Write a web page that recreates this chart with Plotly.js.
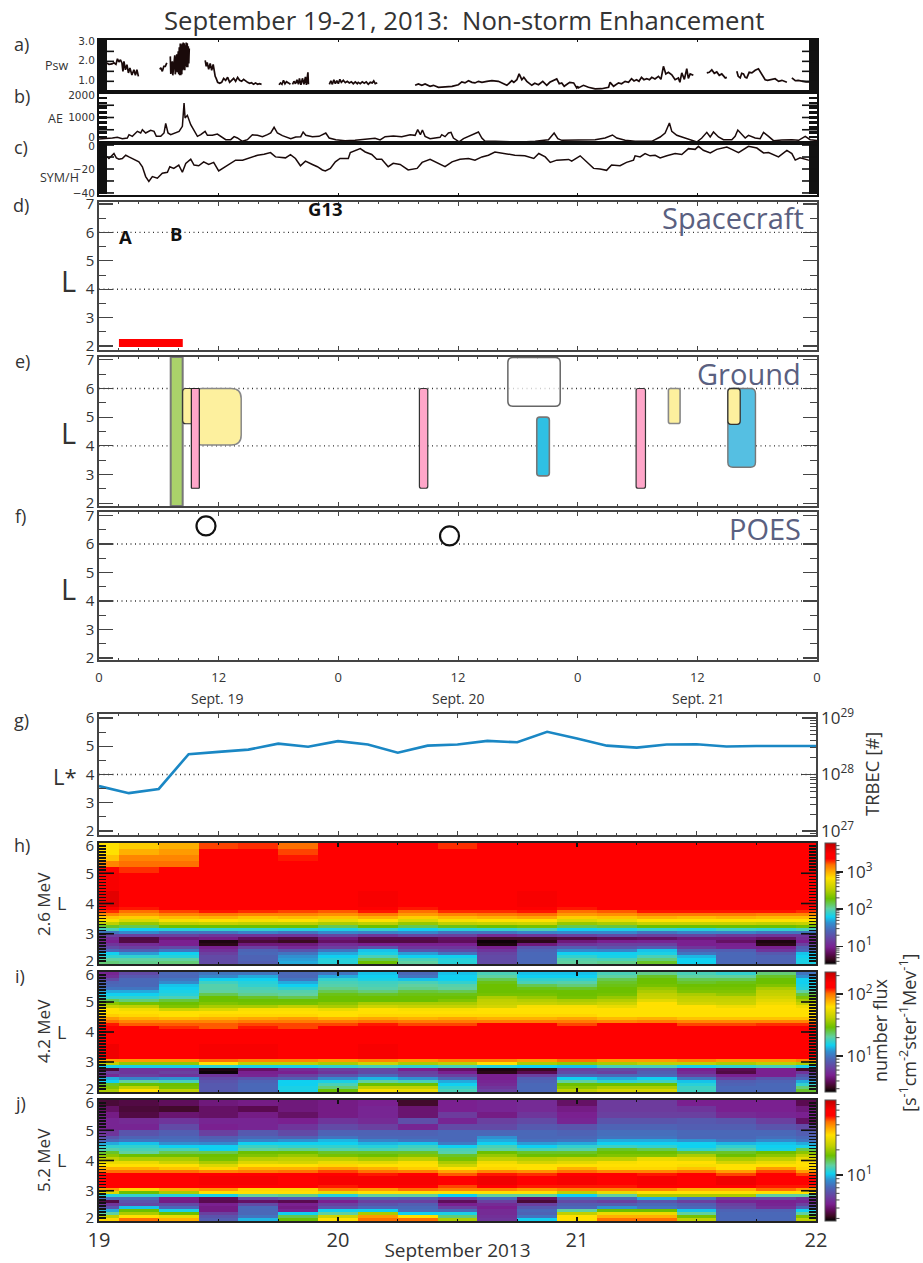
<!DOCTYPE html>
<html><head><meta charset="utf-8">
<script src="https://cdn.plot.ly/plotly-3.0.1.min.js"></script>
<style>html,body{margin:0;padding:0;background:#fff}</style></head>
<body><div id="chart" style="width:923px;height:1263px"></div>
<script>
// ---------- values ----------
const pswHours=[0.8,1.0,1.3,1.5,1.7,1.85,2.0,2.15,2.3,2.4,2.5,2.65,2.8,2.95,3.1,3.3,3.5,3.65,3.8,3.95,null,
6.1,6.2,6.35,6.5,6.65,6.8,null,7.15,7.2,7.35,7.4,7.6,7.65,7.8,7.85,7.95,8.0,8.05,8.1,8.15,8.2,8.25,8.3,8.35,8.4,8.45,8.5,8.55,8.6,8.65,8.7,8.75,8.8,8.85,8.9,8.95,9.0,9.05,null,
10.65,10.75,10.85,11.0,11.15,11.3,11.45,11.55,11.65,11.75,11.9,12.1,12.3,12.5,12.7,12.9,13.1,13.3,13.5,13.7,13.9,14.1,14.3,14.5,14.7,14.9,15.1,15.3,15.5,15.7,15.9,16.1,16.3,null,
18.05,18.2,18.35,18.5,18.65,18.8,19.0,19.2,null,19.4,19.55,19.7,19.85,20.0,20.1,20.25,20.4,20.55,20.7,20.8,20.95,21.0,null,
23.1,23.25,23.4,23.55,23.7,23.85,24.0,24.15,24.3,24.5,24.7,24.9,25.1,25.3,25.5,25.7,25.9,26.0,26.2,26.4,26.6,26.8,27.0,27.2,27.4,27.55,27.7,27.9,null,
31.7,32.03,32.37,32.7,33.2,33.54,34.04,34.7,35.4,36.04,36.38,36.7,37.05,37.4,37.7,38.05,38.4,38.9,39.4,40.05,40.5,40.9,41.4,41.6,41.9,42.13,42.4,42.6,42.9,43.4,43.7,44.07,44.5,44.9,45.2,45.6,45.9,46.15,46.4,46.65,46.9,47.2,47.6,47.9,48.0,48.07,48.58,49.08,49.75,50.4,51.1,51.25,51.6,52.1,52.4,52.76,53.1,53.4,53.65,53.9,54.15,54.4,54.65,54.93,55.2,55.43,55.75,56.1,56.35,56.6,56.84,57.1,57.44,57.77,58.1,58.25,58.44,58.7,58.94,59.1,59.28,59.6,null,
60.95,61.2,61.45,61.7,61.95,62.2,62.45,62.8,62.96,null,63.96,64.1,64.3,64.45,64.63,64.8,64.96,65.2,65.47,65.8,66.13,66.47,66.8,67.05,67.3,67.8,68.15,68.48,68.98,null,69.48,69.82,70.1,70.48,70.9,71.32,71.8];
const pswValues=[1.92,1.85,1.87,1.93,1.85,2.13,1.97,2.08,1.92,1.5,2.0,1.58,1.83,1.42,1.67,1.32,1.58,1.3,1.58,1.25,null,
1.6,1.68,1.5,1.75,1.75,1.92,null,2.25,1.37,2.0,1.3,2.3,1.35,2.35,1.45,2.5,1.35,2.7,1.3,2.9,1.3,2.85,1.35,2.9,1.55,2.95,1.6,2.9,1.55,2.8,1.75,2.95,1.7,2.9,1.7,2.75,1.9,2.65,null,
2.05,1.75,1.95,1.6,1.9,1.55,1.85,1.45,1.25,1.15,0.95,0.9,0.95,1.15,1.05,1.2,0.95,1.05,1.15,1.0,1.2,1.05,1.0,1.1,1.0,0.95,0.9,0.93,0.85,0.92,0.85,0.88,0.85,null,
0.83,0.92,0.85,1.05,0.88,0.98,0.92,0.85,null,0.85,1.0,0.88,1.08,0.85,1.15,0.82,1.15,0.85,1.22,0.82,1.45,0.85,null,
0.85,1.03,0.85,1.08,0.88,1.03,0.88,1.1,0.95,1.05,0.93,1.0,0.92,0.98,0.88,0.97,0.88,0.95,0.88,0.97,0.9,0.97,0.85,0.95,0.92,1.02,0.88,0.93,null,
0.8,0.87,0.8,0.87,0.75,0.8,0.7,0.72,0.75,0.83,0.97,0.92,1.03,0.95,0.92,1.0,0.95,1.0,1.03,1.0,0.9,0.8,1.03,0.95,1.08,1.37,1.08,1.2,1.0,0.8,0.9,0.83,1.0,0.8,0.95,1.05,1.12,0.88,0.92,0.75,0.83,0.95,0.92,0.67,0.75,0.67,0.8,0.7,0.62,0.63,0.7,0.95,0.75,0.92,0.88,1.0,0.95,1.13,1.02,1.08,1.0,1.2,1.08,1.13,1.08,1.2,1.12,1.25,1.1,1.75,1.37,1.45,1.33,1.08,1.17,0.95,1.42,1.1,1.63,1.15,1.37,1.3,null,
1.42,1.45,1.58,1.4,1.47,1.3,1.37,1.17,1.2,null,1.5,1.25,1.17,1.4,1.37,1.2,1.17,1.45,1.42,1.55,1.63,1.33,1.08,1.05,1.08,1.13,1.0,1.05,0.95,null,1.17,1.03,1.05,1.0,0.97,0.97,0.93];
const aeHours=[0,0.84,1.34,1.84,2.34,2.84,3.01,3.34,3.85,4.18,4.35,4.68,5.18,5.52,5.75,6.19,6.52,6.69,6.92,7.19,7.53,8.03,8.36,8.53,8.63,8.86,9.2,9.53,9.87,10.2,10.64,10.87,11.37,11.87,12.2,12.71,13.21,13.55,13.88,14.38,14.88,15.38,15.89,16.39,16.89,17.22,17.56,17.89,18.39,19.23,19.73,20.23,20.47,20.74,21.4,22.07,22.74,23.08,23.75,24.67,25.68,26.68,27.68,28.19,28.69,29.52,30.36,31.2,31.7,31.96,32.23,32.43,32.7,33.2,33.7,34.2,34.37,34.7,35.04,35.3,35.54,36.11,36.55,37.05,37.55,38.05,38.39,38.72,39.72,41.06,42.4,43.74,45.07,45.64,46.01,46.41,47.08,48.25,48.74,49.75,50.75,51.49,51.92,52.76,53.76,55.43,56.27,56.77,57.2,57.44,57.94,58.61,59.28,59.95,60.45,60.95,61.29,61.62,62.12,62.62,63.46,63.79,64.06,64.46,64.8,65.13,65.8,66.3,66.64,67.14,67.64,68.48,69.48,70.15,70.82,71.32,72];
const aeValues=[120,136,163,190,136,163,300,231,435,367,503,367,476,435,231,231,367,762,367,299,367,435,639,1591,979,1088,707,462,231,299,435,272,272,326,231,95,95,218,163,27,95,299,272,218,299,367,598,367,258,136,204,218,408,272,218,231,367,163,95,54,68,122,150,82,218,245,218,299,272,503,299,490,231,136,163,190,299,218,367,394,163,5,136,231,326,408,163,27,27,5,0,27,95,367,136,68,68,95,95,95,163,286,163,68,27,27,204,367,775,435,272,190,95,0,163,394,204,408,204,95,95,231,490,299,163,272,163,136,394,231,54,82,95,68,231,95,60];
const symHours=[0,0.84,1.0,1.27,1.5,1.74,2.0,2.34,2.68,3.0,3.5,4.0,4.35,4.68,5.0,5.35,5.85,6.35,6.86,7.1,7.5,8.0,8.36,8.7,9.2,9.53,10.0,10.5,11.0,11.5,12.0,12.5,13.2,13.7,14.4,15.2,15.9,16.55,17.2,17.7,18.7,19.2,19.7,20.2,20.7,21.4,21.9,22.4,22.7,23.2,23.7,24.17,25.0,25.2,25.7,26.2,26.7,27.35,27.85,28.35,29.0,29.5,30.2,31.0,31.9,32.4,33.2,34.0,34.7,35.4,36.2,37.05,37.7,38.4,39.05,39.7,40.7,41.7,42.7,43.6,44.1,44.75,45.25,45.9,47.1,47.4,48.25,48.74,49.6,50.25,50.9,51.4,52.25,52.9,53.6,53.76,54.26,54.76,55.26,55.77,56.27,56.94,57.77,58.44,59.11,59.78,60.11,60.6,61.3,61.95,62.96,63.46,64.13,65.13,65.97,66.64,67.14,68.14,68.98,69.48,69.82,70.3,71.15,72];
const symValues=[-10,-9.9,-11.2,-8.5,-7.1,-10.7,-11.8,-11.2,-8.5,-9.9,-11.8,-14,-18.1,-26.3,-30.4,-26.3,-27.7,-23.6,-22.7,-18.1,-19.5,-16.7,-22.7,-15.3,-11.8,-16.7,-17.3,-14,-16.2,-14.5,-21.6,-18.9,-15.3,-12.6,-12.6,-10.7,-8.5,-7.7,-6.3,-9.9,-10.7,-8,-11.2,-17.3,-13.4,-16.2,-18.1,-20.8,-21.6,-19.5,-14,-11.2,-11.2,-6.3,-4.4,-3,-5.8,-7.9,-11.8,-11.8,-18.1,-15.3,-16.2,-20.8,-19.5,-14.5,-12,-15.3,-18.1,-14,-11.8,-11.2,-12.6,-9.9,-8.5,-5.8,-7.1,-8.5,-9,-11.2,-7.1,-9.9,-14.5,-12.6,-12,-13.4,-9,-12.6,-19.5,-20,-21.1,-16.7,-17.3,-14.5,-12.6,-9,-9.9,-7.1,-9,-8.5,-10.7,-9,-7.1,-7.9,-3,-3.6,-1.1,-4.4,-6.6,-3.6,-1.6,-3.6,-6.3,-1.1,-2.5,-6.6,-6.3,-9.9,-4.4,-7.1,-12.6,-10.7,-12.6,-13];

const spacecraftBar={start:2.0,end:8.4,low:1.97,high:2.25};
const eventStart=[7.19,8.39,9.3,9.26,32.13,41.0,43.9,53.86,57.1,63.06,63.06];
const eventEnd  =[8.39,9.5,14.26,10.06,32.97,46.25,45.16,54.8,58.27,65.83,64.3];
const eventLow  =[1.9,4.77,4.03,2.52,2.52,5.38,2.95,2.52,4.78,3.25,4.75];
const eventHigh =[7.1,6,6,6,6,7.08,5,6,6,6,6];
const eventFill =['#aad26a','#fdf09e','#fdf09e','#ffa6c9','#ffa6c9','rgba(255,255,255,0.75)','#2fc0e4','#ffa6c9','#fdf09e','#55bfe2','#fdf09e'];
const eventEdge =['#777777','#333333','#888888','#222222','#333333','#666666','#777777','#333333','#888888','#777777','#333333'];
const eventRound=[0,0.3,1.0,0,0.2,0.5,0.3,0.2,0.2,0.5,0.3];
const eventEdgeWidth=[2,1.2,1.5,1.2,1.2,1.5,1.6,1.2,1.6,1.4,1.3];

const poesHours=[10.73,35.15];
const poesL=[6.63,6.28];

const lstarHours=[0,3,6,9,12,15,18,21,24,27,30,33,36,39,42,45,48,51,54,57,60,63,66,69,72];
const lstarValues=[3.59,3.34,3.49,4.72,4.8,4.88,5.09,4.98,5.18,5.06,4.77,5.02,5.06,5.19,5.14,5.51,5.27,5.02,4.95,5.06,5.07,4.99,5.01,5.01,5.01];

const timeEdges=[0,2,6,10,14,18,22,26,30,34,38,42,46,50,54,58,62,66,70,72];
// L bin edges, top row first
const edges26=[6,5.8,5.6,5.4,5.2,5,4.4,3.9,3.8,3.7,3.6,3.5,3.4,3.3,3.2,3.1,3,2.9,2.8,2.7,2.6,2.5,2.4,2.3,2.2,2.1,2];
const edges42=[6,5.9,5.8,5.7,5.6,5.5,5.4,5.3,5.2,5.1,5,4.9,4.8,4.7,4.6,4.5,4.4,4.3,4.2,4.1,3.6,3.1,3,2.9,2.8,2.7,2.6,2.5,2.4,2.3,2.2,2.1,2];
const edges52=[6,5.8,5.6,5.4,5.2,5,4.8,4.7,4.6,4.5,4.4,4.3,4.2,4.1,4,3.9,3.8,3.7,3.6,3.5,3.2,3.1,3,2.9,2.8,2.7,2.6,2.5,2.4,2.3,2.2,2.1,2];
// flux as its position on each panel's colour bar (percent of bar height), top row first
const flux26=[
[71,73,76,84,85,82,89,89,90,85,90,90,90,90,90,90,90,90,90],
[71,76,78,87,90,84,90,90,90,89,90,90,90,90,90,90,90,90,90],
[74,80,80,90,90,86,90,90,90,90,90,90,90,90,90,90,90,90,90],
[80,82,82,90,90,90,90,90,90,90,90,90,90,90,90,90,90,90,90],
[87,85,88,90,90,90,90,90,90,90,90,90,90,90,90,90,90,90,90],
[92,90,90,90,90,90,90,90,90,90,90,90,90,90,90,90,90,90,90],
[95,90,90,90,90,90,90,92,90,90,90,92,90,90,90,90,90,90,90],
[88,86,89,89,89,89,87,89,86,89,89,89,86,88,89,89,89,89,89],
[85,82,84,86,85,84,83,86,82,85,85,86,82,83,86,86,86,86,85],
[80,78,80,81,80,80,79,81,78,80,81,82,78,79,81,81,81,80,80],
[74,73,75,76,74,75,74,76,73,75,76,77,73,74,76,75,76,75,75],
[70,66,70,71,70,71,68,71,66,70,71,71,66,68,71,71,71,71,71],
[62,58,62,63,62,62,60,62,58,62,63,64,58,60,63,63,63,62,63],
[52,50,54,54,54,54,50,54,50,53,54,55,50,51,54,54,54,54,55],
[44,39,41,42,42,41,40,42,39,41,42,44,39,40,42,41,43,42,44],
[30,33,30,30,32,30,33,32,33,30,30,32,33,33,30,32,32,30,30],
[20,20,20,18,18,18,21,18,21,20,16,18,20,22,20,21,19,18,18],
[16,7,12,13,9,7,12,8,8,10,5,5,7,9,10,12,12,10,16],
[14,7,14,2,6,4,10,7,7,9,1,3,12,14,15,14,10,2,14],
[18,16,14,3,12,12,16,14,14,14,2,12,18,20,20,14,14,3,20],
[22,20,22,14,20,16,20,24,18,18,14,24,26,24,26,18,15,14,26],
[28,26,30,17,27,24,30,38,24,22,18,27,33,32,38,26,26,18,28],
[39,35,39,20,28,30,36,40,35,30,21,28,39,39,40,30,28,25,38],
[42,42,41,22,27,34,39,44,39,39,22,28,42,40,44,37,28,27,39],
[46,46,46,22,27,35,41,50,44,41,22,28,45,44,48,39,28,27,40],
[48,47,48,22,26,36,41,54,46,41,22,28,46,47,52,39,28,27,40]];
const flux42=[
[15,22,28,30,30,28,30,38,28,38,44,38,38,44,47,44,42,48,30],
[17,25,28,33,36,28,36,39,30,39,46,39,39,46,52,46,46,52,34],
[22,28,30,39,39,30,42,40,38,39,50,42,42,50,54,50,50,54,39],
[27,28,33,43,41,36,44,43,44,42,53,44,45,52,54,52,53,54,39],
[28,28,38,45,42,39,45,44,46,45,54,50,48,53,55,54,54,56,40],
[30,30,39,45,44,42,47,45,47,46,54,53,52,54,58,55,55,60,41],
[36,36,40,46,45,45,50,48,51,50,54,54,54,54,60,56,56,62,46],
[39,39,41,50,47,46,53,52,53,53,55,55,54,55,62,60,58,63,51],
[42,42,44,54,52,50,54,54,54,54,60,58,55,58,63,62,62,65,56],
[50,48,51,54,54,54,54,54,54,56,62,61,60,61,67,63,63,67,60],
[57,55,54,56,55,55,57,60,60,60,63,63,62,64,71,65,64,69,63],
[63,62,56,60,60,62,60,64,63,63,65,70,70,68,71,71,69,71,69],
[71,69,64,66,70,70,68,71,70,70,71,71,71,71,71,71,71,71,71],
[71,71,71,71,71,71,71,71,71,71,71,71,71,71,71,71,71,71,71],
[73,72,71,72,72,72,71,72,72,72,72,72,72,71,71,71,71,71,71],
[78,76,75,76,77,78,76,77,76,77,76,76,77,75,76,74,74,74,74],
[82,80,80,80,81,81,81,82,81,81,81,81,81,80,81,80,80,80,80],
[86,83,83,83,84,84,84,86,84,84,87,87,84,87,87,84,84,85,85],
[90,87,85,83,86,84,88,90,90,89,90,90,90,90,90,88,88,88,88],
[90,90,90,90,90,90,90,90,90,90,90,90,90,90,90,90,90,90,90],
[93,91,91,92,92,90,91,92,91,90,90,91,90,90,91,90,90,90,90],
[78,78,78,82,80,80,78,80,78,80,80,78,82,78,78,80,78,78,80],
[62,58,58,71,62,62,60,64,60,62,71,60,58,60,62,62,60,62,60],
[40,40,40,42,40,40,42,44,42,44,41,39,38,44,44,40,42,44,40],
[6,18,18,2,10,16,20,22,14,10,2,4,20,22,24,14,8,14,5],
[20,18,20,1,14,14,18,22,20,14,3,8,22,20,26,16,7,14,18],
[16,20,18,18,15,20,24,28,22,20,14,20,28,28,28,20,14,14,24],
[36,32,34,22,24,26,33,37,34,27,14,26,39,36,39,30,20,24,28],
[39,46,44,24,27,39,40,46,44,36,15,27,46,42,43,38,26,27,36],
[52,54,54,25,28,39,44,54,54,39,16,28,54,54,54,41,27,28,42],
[56,62,55,25,28,40,48,62,62,42,18,28,57,60,60,43,28,28,48],
[60,71,62,25,28,40,54,70,68,44,20,28,62,65,65,43,28,28,52]];
const flux52=[
[6,7,9,12,13,12,13,14,5,14,15,16,10,19,19,14,14,14,8],
[10,6,5,10,8,12,13,15,11,14,15,16,13,19,19,18,14,14,12],
[13,7,11,10,13,10,13,15,11,19,13,18,14,20,20,20,16,15,14],
[15,16,18,15,15,14,18,16,23,15,20,22,15,24,24,25,24,20,10],
[15,15,22,14,15,18,22,20,15,22,22,25,24,27,27,26,26,24,22],
[18,24,26,20,25,22,27,27,27,28,28,28,27,29,29,28,28,28,26],
[24,27,28,26,28,27,30,28,28,28,34,28,28,30,30,28,28,29,28],
[28,30,29,28,32,34,37,32,30,28,36,29,30,36,36,34,30,33,30],
[36,38,34,33,39,39,39,37,38,31,39,35,36,39,39,39,37,38,36],
[42,42,39,39,43,42,42,41,43,39,44,39,42,43,42,39,42,39,40],
[45,44,44,39,46,47,45,44,45,44,46,44,45,52,50,42,45,40,50],
[52,46,50,50,54,54,52,52,52,45,54,52,52,54,54,52,52,54,57],
[57,54,54,54,56,58,55,54,56,52,58,54,54,56,56,60,54,57,62],
[62,60,60,55,61,62,62,60,62,55,62,61,62,62,68,66,60,62,68],
[68,68,64,60,66,65,68,67,70,60,69,65,67,70,71,71,65,68,71],
[71,71,71,66,71,71,72,71,71,64,71,71,71,71,71,70,71,71,71],
[76,76,74,72,76,76,78,76,73,71,72,71,76,72,72,74,71,78,72],
[82,82,82,80,81,82,84,82,81,77,80,79,82,80,80,82,78,84,78],
[88,88,88,88,88,88,88,86,88,83,86,85,88,87,86,88,84,90,84],
[90,91,90,92,92,90,92,92,92,90,93,90,92,90,92,90,93,90,90],
[87,88,88,90,88,90,86,88,87,84,87,86,86,86,88,87,89,86,86],
[78,72,76,78,72,72,80,78,82,80,80,78,80,80,80,76,76,82,78],
[66,54,60,71,71,71,68,71,71,71,71,71,62,68,71,71,71,71,71],
[41,42,41,40,46,47,41,46,46,39,46,46,39,46,60,60,60,46,46],
[28,28,14,9,22,25,24,27,26,20,28,10,28,28,36,30,20,22,18],
[7,24,13,8,10,8,14,20,20,9,20,6,22,20,24,20,15,14,15],
[18,22,22,14,22,14,20,24,26,14,16,20,26,26,28,26,20,15,20],
[24,38,28,13,28,13,24,28,28,20,14,25,28,34,30,28,22,17,27],
[36,54,40,13,28,15,39,39,29,28,16,28,46,54,54,38,27,27,39],
[46,60,54,20,28,39,46,60,39,40,16,27,62,68,68,46,28,28,46],
[62,71,68,24,30,50,64,78,71,48,17,30,71,76,76,55,28,28,56],
[72,82,76,26,37,54,71,82,82,60,18,39,71,82,82,62,28,28,62]];
const hourTicks=[0,12,24,36,48,60,72];
const hourLabels=['0','12','0','12','0','12','0'];
const dayTicks=[0,24,48,72];
const dayLabels=['19','20','21','22'];

// ---------- page geometry ----------
const W=923,H=1263,BLACK='#111',GREY='#444',TXT='#333333';
const FONT='"Open Sans","Noto Sans",sans-serif';
const dom=(t,b)=>[1-b/H,1-t/H];
const XL=99/W,XR=817/W,XRH=816/W;
const colorscale=[[0,'#000000'],[0.04,'#3a0a20'],[0.08,'#5a0a50'],[0.14,'#7a2090'],[0.2,'#6a40a0'],[0.28,'#4a68b8'],[0.34,'#3090d0'],[0.39,'#10d0f0'],[0.46,'#60d0a0'],[0.54,'#6cc000'],[0.62,'#c0d000'],[0.71,'#ffe000'],[0.76,'#ffb000'],[0.82,'#ff7000'],[0.87,'#ff0000'],[0.91,'#ff0000'],[1,'#c00000']];

const layout={width:W,height:H,margin:{l:0,r:0,t:0,b:0},paper_bgcolor:'#fff',plot_bgcolor:'#fff',showlegend:false,font:{family:FONT,color:TXT},shapes:[],annotations:[]};
const ann=(text,x,y,size,o={})=>layout.annotations.push(Object.assign({text,x:x/W,y:1-y/H,xref:'paper',yref:'paper',xanchor:'center',yanchor:'middle',showarrow:false,font:{size,family:FONT,color:TXT}},o));

function xAxis(i,top,bot,o={}){
  layout['xaxis'+(i===1?'':i)]=Object.assign({domain:[XL,XR],range:[0,72],anchor:'y'+(i===1?'':i),tickmode:'array',tickvals:hourTicks,ticktext:hourLabels,showticklabels:false,ticks:'inside',ticklen:4,tickwidth:1,tickcolor:GREY,showgrid:false,zeroline:false,showline:true,linecolor:GREY,linewidth:1.6,mirror:'ticks',
    minor:{ticks:'inside',ticklen:2,tickwidth:1,tickcolor:GREY,tickmode:'linear',tick0:0,dtick:2,showgrid:false}},o);
}
function yAxis(i,top,bot,range,o={}){
  layout['yaxis'+(i===1?'':i)]=Object.assign({domain:dom(top,bot),range,anchor:'x'+(i===1?'':i),showgrid:false,zeroline:false,showline:true,linecolor:GREY,linewidth:1.6,mirror:'ticks',
    tickfont:{size:15,family:FONT,color:TXT},ticks:'inside',ticklen:14,tickwidth:1.2,tickcolor:GREY},o);
}
// top three panels: thick frame, solid tick bars
const thin={ticklen:2,tickcolor:BLACK,linecolor:BLACK,linewidth:2,minor:{ticks:''}};
xAxis(1,40,92,thin);xAxis(2,92,143,thin);xAxis(3,143,195,thin);
const smallTick={size:10.5,family:'"DejaVu Sans",sans-serif',color:TXT};
const heavy=(dt)=>({linecolor:BLACK,linewidth:2,tickfont:smallTick,ticklen:0,tickmode:'array',minor:{ticks:'inside',ticklen:8,tickwidth:dt.w,tickcolor:BLACK,tickmode:'linear',tick0:0,dtick:dt.d,showgrid:false}});
yAxis(1,40,92,[0.465,3.07],Object.assign(heavy({d:0.05,w:2}),{tickvals:[2.98,2.05,1.05],ticktext:['3.0','2.0','1.0']}));
yAxis(2,92,143,[-41,2041],Object.assign(heavy({d:200,w:2.6}),{tickvals:[204,1000,1918],ticktext:['0','1000','2000']}));
yAxis(3,143,195,[-41.7,1.7],Object.assign(heavy({d:1,w:2}),{tickvals:[-1,-20,-40],ticktext:['0','\u221220','\u221240']}));
const longTicks=(ya,vals)=>vals.forEach(v=>{
  [[99,114],[802,817]].forEach(p=>layout.shapes.push({type:'line',xref:'paper',yref:ya,x0:p[0]/W,x1:p[1]/W,y0:v,y1:v,line:{color:BLACK,width:1.6}}));
});
longTicks('y',[1,1.5,2,2.5]);longTicks('y2',[0,500,1000,1500,2000]);longTicks('y3',[0,-10,-20,-30,-40]);

// L panels
const lMinor={ticks:'inside',ticklen:7,tickwidth:1,tickcolor:GREY,tickmode:'linear',tick0:0,dtick:0.5,showgrid:false};
const lTicks={tickmode:'array',tickvals:[2,3,4,5,6,7],ticktext:['2','3','4','5','6','7'],minor:lMinor};
xAxis(4,202,350);yAxis(4,202,350,[1.86,7.07],lTicks);
xAxis(5,357,506);yAxis(5,357,506,[1.9,7.1],lTicks);
xAxis(6,512,660,{showticklabels:true,ticklabelstandoff:5,tickfont:{size:13,family:FONT,color:TXT}});yAxis(6,512,660,[1.93,7.12],lTicks);
// L* panel
xAxis(7,714,835,{domain:[XL,XRH],mirror:'ticks'});
yAxis(7,714,835,[1.86,6.14],{mirror:false,tickmode:'array',tickvals:[2,3,4,5,6],ticktext:['2','3','4','5','6'],minor:lMinor});
layout.yaxis11={domain:dom(714,835),anchor:'x7',overlaying:'y7',side:'right',type:'log',range:[26.93,29.07],tickmode:'array',tickvals:[1e27,1e28,1e29],ticktext:['10<sup>27</sup>','10<sup>28</sup>','10<sup>29</sup>'],tickfont:{size:17,family:FONT,color:TXT},ticks:'inside',ticklen:14,tickwidth:1.2,tickcolor:GREY,showgrid:false,zeroline:false,showline:true,linecolor:GREY,linewidth:1.6,
  minor:{ticks:'inside',ticklen:6,tickwidth:1,tickcolor:GREY,dtick:'D1',showgrid:false}};
// flux panels
const fluxX={domain:[XL,XRH],tickvals:dayTicks,ticktext:dayLabels,ticklen:4,tickwidth:1.4,tickcolor:BLACK,linecolor:'#222',linewidth:1.8,minor:{ticks:'inside',ticklen:2,tickwidth:1,tickcolor:BLACK,tickmode:'linear',tick0:0,dtick:6,showgrid:false}};
const fluxY={linecolor:'#222',linewidth:1.8,tickmode:'array',tickvals:[2.1,3,4,5,5.9],ticktext:['2','3','4','5','6'],ticks:'inside',ticklen:0,
  minor:{ticks:'inside',ticklen:7,tickwidth:1.5,tickcolor:BLACK,tickmode:'linear',tick0:0,dtick:0.1,showgrid:false}};
const bigDay={showticklabels:true,tickfont:{size:20,family:'"Liberation Sans Narrow","Open Sans",sans-serif',color:TXT}};
const panels=[[8,843,964],[9,972,1092],[10,1100,1221]];
panels.forEach(p=>{
  xAxis(p[0],p[1],p[2],p[0]===10?Object.assign({},fluxX,bigDay,{title:{text:'September 2013',font:{size:19,family:FONT,color:TXT},standoff:0}}):fluxX);
  yAxis(p[0],p[1],p[2],[2,6],fluxY);
  [[99,114],[801,816]].forEach(s=>[3,4,5].forEach(v=>layout.shapes.push({type:'line',xref:'paper',yref:'y'+p[0],x0:s[0]/W,x1:s[1]/W,y0:v,y1:v,line:{color:BLACK,width:1.6}})));
});

// reference lines
[['y4',6],['y4',4],['y5',6],['y5',4],['y6',6],['y6',4],['y7',4]].forEach(d=>layout.shapes.push({type:'line',xref:'paper',yref:d[0],x0:XL,x1:XR,y0:d[1],y1:d[1],layer:'below',line:{color:'#333',width:1.4,dash:'1px,3.5px'}}));

// spacecraft bar
layout.shapes.push({type:'rect',xref:'x4',yref:'y4',x0:spacecraftBar.start,x1:spacecraftBar.end,y0:spacecraftBar.low,y1:spacecraftBar.high,fillcolor:'#ff0000',line:{width:0}});
// ground events
eventStart.forEach((s,i)=>{
  const e=eventEnd[i],lo=eventLow[i],hi=eventHigh[i],rx=Math.max(eventRound[i],0.04),ry=rx*0.35;
  const path=`M ${s+rx} ${lo} L ${e-rx} ${lo} Q ${e} ${lo} ${e} ${lo+ry} L ${e} ${hi-ry} Q ${e} ${hi} ${e-rx} ${hi} L ${s+rx} ${hi} Q ${s} ${hi} ${s} ${hi-ry} L ${s} ${lo+ry} Q ${s} ${lo} ${s+rx} ${lo} Z`;
  layout.shapes.push({type:'path',xref:'x5',yref:'y5',path,fillcolor:eventFill[i],line:{color:eventEdge[i],width:eventEdgeWidth[i]}});
});

// colour bars: labelled decades as colour-bar ticks, the steps between them as short marks
const minors=[2,3,4,5,6,7,8,9].map(m=>Math.log10(m));
function cbar(top,bot,lo,hi,decades){
  for(let d=-1;d<5;d++) minors.concat([0]).forEach(m=>{
    const v=d+m;
    if(v>=lo&&v<=hi&&!decades.includes(v)){
      const py=bot-(v-lo)/(hi-lo)*(bot-top);
      layout.shapes.push({type:'line',xref:'paper',yref:'paper',x0:836/W,x1:(m===0?843:839.5)/W,y0:1-py/H,y1:1-py/H,line:{color:'#444',width:1}});
    }
  });
  return {x:825/W,xanchor:'left',xpad:0,ypad:0,y:1-top/H,yanchor:'top',len:bot-top,lenmode:'pixels',thickness:11,thicknessmode:'pixels',tickmode:'array',tickvals:decades,ticktext:decades.map(d=>`10<sup>${d}</sup>`),ticks:'outside',ticklen:7,tickwidth:1.8,tickcolor:'#222',outlinecolor:'#555',outlinewidth:1,tickfont:{size:17,family:FONT,color:TXT}};
}
const toLog=(rows,lo,hi)=>rows.map(r=>r.map(v=>lo+v/100*(hi-lo))).reverse();
const heat=(rows,edges,lo,hi,ax,top,bot,dec)=>({type:'heatmap',x:timeEdges,y:edges.slice().reverse(),z:toLog(rows,lo,hi),zmin:lo,zmax:hi,colorscale,colorbar:cbar(top,bot,lo,hi,dec),xaxis:'x'+ax,yaxis:'y'+ax,hoverinfo:'skip'});
const line=(x,y,ax,c,w)=>({type:'scatter',mode:'lines',x,y,xaxis:'x'+ax,yaxis:'y'+ax,line:{color:c,width:w},connectgaps:false,hoverinfo:'skip'});

const data=[
 line(pswHours,pswValues,'','#1a0a0a',1.7),
 line(aeHours,aeValues,2,'#1a0a0a',1.5),
 line(symHours,symValues,3,'#1a0a0a',1.5),
 {type:'scatter',mode:'markers',x:poesHours,y:poesL,xaxis:'x6',yaxis:'y6',marker:{symbol:'circle',size:19,color:'#fff',line:{color:'#111',width:2.2}},hoverinfo:'skip'},
 line(lstarHours,lstarValues,7,'#1a87c4',2.6),
 {type:'scatter',mode:'none',x:[0],y:[1e28],xaxis:'x7',yaxis:'y11',hoverinfo:'skip'},
 heat(flux26,edges26,0.53,3.77,8,843,964,[1,2,3]),
 heat(flux42,edges42,0.424,2.36,9,972,1092,[1,2]),
 heat(flux52,edges52,0.446,1.9,10,1100,1221,[1])
];
data[0].xaxis='x';data[0].yaxis='y';

// text
ann('September 19-21, 2013:  Non-storm Enhancement',464,20,25.7,{font:{size:25.7,family:FONT,color:'#333'}});
[['a)',21,44],['b)',22,96],['c)',21,147],['d)',21,205],['e)',22,361],['f)',20,516],['g)',21,720],['h)',22,845],['i)',20,976],['j)',20,1103]].forEach(l=>ann(l[0],l[1],l[2],18));
ann('Psw',56,65,12.5);ann('AE',55,119,12.5);ann('SYM/H',59,178,12.5);
ann('L',68,280,29);ann('L',68,433,29);ann('L',68,588,29);
ann('L*',65,776,22);
const deco={size:29,family:FONT,color:'#5a6080'};
ann('Spacecraft',806,217,29,{xanchor:'right',font:deco});
ann('Ground',803,373,29,{xanchor:'right',font:deco});
ann('POES',803,528,29,{xanchor:'right',font:deco});
const lab={size:18.5,family:FONT,color:'#111'};
ann('<b>G13</b>',325,209,18.5,{font:lab});ann('<b>A</b>',125,236,18,{font:lab});ann('<b>B</b>',176,233,18,{font:lab});
[['Sept. 19',217],['Sept. 20',458],['Sept. 21',698]].forEach(s=>ann(s[0],s[1],698,14));
ann('TRBEC [#]',871,774,18.5,{textangle:-90});
ann('2.6 MeV',43,904,17,{textangle:-90});ann('4.2 MeV',43,1031,17,{textangle:-90});ann('5.2 MeV',43,1160,17,{textangle:-90});
ann('L',62,903,18);ann('L',62,1032,18);ann('L',62,1160,18);
ann('number flux',880,1030,18,{textangle:-90});
ann('[s<sup>-1</sup>cm<sup>-2</sup>ster<sup>-1</sup>Mev<sup>-1</sup>]',908,1033,18,{textangle:-90});

Plotly.newPlot('chart',data,layout,{staticPlot:true,displayModeBar:false});
</script></body></html>
